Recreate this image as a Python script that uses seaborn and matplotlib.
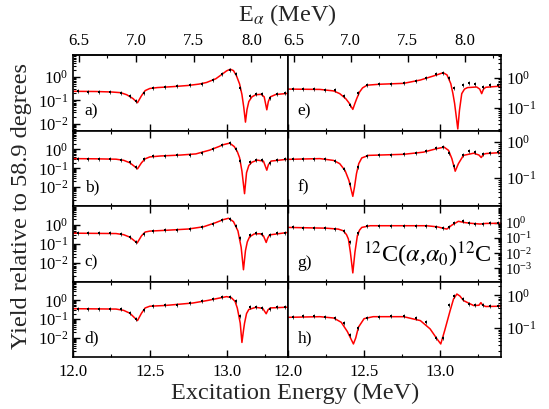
import matplotlib
matplotlib.use("Agg")
import matplotlib.pyplot as plt
import seaborn as sns
import pandas as pd
from matplotlib.ticker import MultipleLocator, LogLocator, NullFormatter, FixedLocator, FormatStrFormatter

sns.set_theme(style="ticks")
plt.rcParams['font.family'] = ['Liberation Serif', 'DejaVu Serif']
plt.rcParams['mathtext.fontset'] = 'stix'
plt.rcParams['axes.linewidth'] = 1.2
plt.rcParams['xtick.color'] = 'black'
plt.rcParams['ytick.color'] = 'black'

# ---------------- data ----------------
# fit curves (red): excitation energy (MeV) and yield
fit_ex_a = [12.00, 12.15, 12.25, 12.31, 12.35, 12.39, 12.42, 12.446, 12.47, 12.50, 12.55, 12.65, 12.75, 12.82, 12.87, 12.93, 12.97, 13.00, 13.024, 13.045, 13.065, 13.085, 13.10, 13.112, 13.123, 13.133, 13.145, 13.165, 13.19, 13.225, 13.245, 13.262, 13.272, 13.285, 13.32, 13.40]
fit_y_a = [0.245, 0.24, 0.229, 0.214, 0.174, 0.120, 0.079, 0.158, 0.263, 0.324, 0.355, 0.389, 0.437, 0.50, 0.589, 0.851, 1.32, 1.86, 2.19, 1.91, 1.12, 0.50, 0.178, 0.050, 0.0115, 0.040, 0.089, 0.141, 0.174, 0.182, 0.141, 0.039, 0.089, 0.141, 0.178, 0.20]

fit_ex_b = [12.00, 12.15, 12.28, 12.33, 12.37, 12.40, 12.42, 12.446, 12.47, 12.50, 12.57, 12.70, 12.80, 12.89, 12.95, 12.98, 13.02, 13.05, 13.07, 13.085, 13.10, 13.117, 13.13, 13.145, 13.165, 13.20, 13.24, 13.262, 13.272, 13.29, 13.40]
fit_y_b = [0.324, 0.316, 0.302, 0.263, 0.195, 0.126, 0.093, 0.195, 0.316, 0.398, 0.447, 0.50, 0.575, 0.912, 1.41, 1.78, 2.14, 1.41, 0.759, 0.355, 0.071, 0.0045, 0.058, 0.141, 0.209, 0.269, 0.24, 0.079, 0.151, 0.24, 0.302]

fit_ex_c = [12.00, 12.28, 12.33, 12.37, 12.418, 12.446, 12.47, 12.50, 12.60, 12.75, 12.85, 12.93, 12.98, 13.013, 13.045, 13.074, 13.095, 13.11, 13.123, 13.135, 13.15, 13.18, 13.22, 13.24, 13.258, 13.268, 13.28, 13.40]
fit_y_c = [0.363, 0.347, 0.302, 0.224, 0.11, 0.263, 0.417, 0.468, 0.513, 0.603, 0.794, 1.32, 1.91, 2.24, 1.48, 0.479, 0.065, 0.0042, 0.043, 0.126, 0.234, 0.331, 0.339, 0.263, 0.117, 0.20, 0.295, 0.398]

fit_ex_d = [12.00, 12.28, 12.33, 12.37, 12.42, 12.446, 12.47, 12.50, 12.60, 12.78, 12.88, 12.94, 13.00, 13.03, 13.055, 13.07, 13.089, 13.10, 13.11, 13.117, 13.13, 13.145, 13.19, 13.235, 13.258, 13.27, 13.285, 13.40]
fit_y_d = [0.363, 0.347, 0.295, 0.209, 0.085, 0.209, 0.398, 0.49, 0.537, 0.724, 1.0, 1.26, 1.58, 1.41, 0.891, 0.389, 0.062, 0.0059, 0.025, 0.062, 0.20, 0.331, 0.427, 0.38, 0.195, 0.316, 0.398, 0.437]

fit_ex_e = [12.00, 12.21, 12.30, 12.34, 12.38, 12.40, 12.426, 12.44, 12.452, 12.47, 12.49, 12.52, 12.60, 12.76, 12.87, 12.96, 13.02, 13.045, 13.07, 13.084, 13.095, 13.105, 13.116, 13.127, 13.142, 13.16, 13.18, 13.24, 13.26, 13.273, 13.285, 13.30, 13.40]
fit_y_e = [0.417, 0.407, 0.363, 0.295, 0.20, 0.148, 0.089, 0.141, 0.204, 0.331, 0.457, 0.562, 0.603, 0.646, 0.832, 1.15, 1.45, 1.23, 0.631, 0.295, 0.141, 0.056, 0.020, 0.083, 0.295, 0.417, 0.468, 0.49, 0.417, 0.295, 0.417, 0.479, 0.525]

fit_ex_f = [12.00, 12.21, 12.30, 12.34, 12.375, 12.40, 12.415, 12.426, 12.437, 12.45, 12.465, 12.485, 12.53, 12.76, 12.89, 12.98, 13.026, 13.055, 13.077, 13.099, 13.12, 13.153, 13.22, 13.255, 13.27, 13.285, 13.30, 13.40]
fit_y_f = [0.331, 0.347, 0.309, 0.251, 0.162, 0.087, 0.048, 0.031, 0.056, 0.132, 0.251, 0.363, 0.427, 0.457, 0.525, 0.661, 0.724, 0.589, 0.347, 0.155, 0.251, 0.427, 0.49, 0.437, 0.372, 0.457, 0.479, 0.513]

fit_ex_g = [12.00, 12.25, 12.33, 12.364, 12.385, 12.397, 12.41, 12.426, 12.44, 12.456, 12.47, 12.485, 12.54, 12.91, 12.98, 13.044, 13.077, 13.12, 13.16, 13.20, 13.263, 13.30, 13.40]
fit_y_g = [0.479, 0.427, 0.372, 0.288, 0.158, 0.083, 0.0115, 0.00051, 0.0115, 0.138, 0.316, 0.479, 0.617, 0.617, 0.525, 0.372, 0.676, 1.2, 1.0, 0.891, 0.794, 0.871, 0.891]

fit_ex_h = [12.00, 12.21, 12.30, 12.35, 12.39, 12.43, 12.445, 12.463, 12.50, 12.56, 12.76, 12.87, 12.934, 12.978, 13.004, 13.03, 13.066, 13.088, 13.11, 13.13, 13.154, 13.22, 13.255, 13.268, 13.28, 13.30, 13.40]
fit_y_h = [0.214, 0.224, 0.204, 0.151, 0.079, 0.033, 0.05, 0.107, 0.195, 0.224, 0.224, 0.17, 0.095, 0.048, 0.033, 0.085, 0.347, 0.776, 1.10, 0.955, 0.692, 0.49, 0.50, 0.60, 0.50, 0.457, 0.468]

# measured points (black)
data_ex = [12.03, 12.10, 12.17, 12.24, 12.31, 12.37, 12.41, 12.46, 12.52, 12.60, 12.68, 12.76, 12.84, 12.91, 12.97, 13.02, 13.06, 13.09, 13.15, 13.19, 13.23, 13.28, 13.33, 13.38]
data_y_a = [0.245, 0.24, 0.235, 0.23, 0.21, 0.16, 0.09, 0.2, 0.33, 0.37, 0.40, 0.44, 0.52, 0.75, 1.4, 2.1, 1.3, 0.33, 0.16, 0.19, 0.19, 0.13, 0.19, 0.2]
data_y_b = [0.32, 0.32, 0.31, 0.30, 0.29, 0.21, 0.11, 0.3, 0.42, 0.46, 0.48, 0.52, 0.62, 1.0, 1.7, 2.1, 1.0, 0.25, 0.22, 0.27, 0.26, 0.2, 0.28, 0.30]
data_y_c = [0.36, 0.36, 0.35, 0.35, 0.33, 0.23, 0.13, 0.33, 0.48, 0.52, 0.56, 0.61, 0.75, 1.15, 1.9, 2.1, 0.9, 0.2, 0.28, 0.35, 0.33, 0.3, 0.36, 0.39]
data_y_d = [0.36, 0.36, 0.35, 0.35, 0.33, 0.21, 0.1, 0.3, 0.5, 0.54, 0.6, 0.73, 0.95, 1.25, 1.55, 1.5, 0.9, 0.15, 0.42, 0.46, 0.41, 0.36, 0.42, 0.44]
data_y_e = [0.42, 0.41, 0.41, 0.40, 0.38, 0.24, 0.12, 0.3, 0.56, 0.6, 0.62, 0.64, 0.78, 1.0, 1.3, 1.45, 0.95, 0.45, 0.58, 0.64, 0.62, 0.5, 0.58, 0.56]
data_y_f = [0.33, 0.34, 0.34, 0.33, 0.3, 0.18, 0.07, 0.2, 0.42, 0.44, 0.45, 0.46, 0.5, 0.58, 0.68, 0.75, 0.5, 0.22, 0.45, 0.56, 0.52, 0.46, 0.5, 0.52]
data_y_g = [0.48, 0.46, 0.44, 0.42, 0.40, 0.3, 0.05, 0.2, 0.62, 0.62, 0.62, 0.62, 0.6, 0.58, 0.52, 0.45, 0.5, 0.9, 1.3, 1.0, 0.85, 0.8, 0.9, 0.9]
data_y_h = [0.22, 0.23, 0.23, 0.22, 0.2, 0.14, 0.06, 0.1, 0.21, 0.22, 0.23, 0.23, 0.2, 0.15, 0.05, 0.05, 0.5, 0.95, 0.75, 0.55, 0.5, 0.5, 0.46, 0.47]

panel_labels = ['a)', 'b)', 'c)', 'd)', 'e)', 'f)', 'g)', 'h)']
ylims = [(5e-3, 9), (1e-3, 1e1), (1e-3, 1e1), (1e-3, 1e1),
         (0.0178, 5.6), (0.0167, 2.1), (1.4e-4, 12), (0.0132, 2.65)]
yticks_major = [[1e-2, 1e-1, 1e0], [1e-2, 1e-1, 1e0], [1e-2, 1e-1, 1e0], [1e-2, 1e-1, 1e0],
                [1e-1, 1e0], [1e-1, 1e0], [1e-3, 1e-2, 1e-1, 1e0], [1e-1, 1e0]]
x_ticks = [12.0, 12.5, 13.0]
ea_ticks = [6.5, 7.0, 7.5, 8.0]
reaction_label = r'$^{12}$C($\alpha$,$\alpha_0$)$^{12}$C'

fits = [(fit_ex_a, fit_y_a), (fit_ex_b, fit_y_b), (fit_ex_c, fit_y_c), (fit_ex_d, fit_y_d),
        (fit_ex_e, fit_y_e), (fit_ex_f, fit_y_f), (fit_ex_g, fit_y_g), (fit_ex_h, fit_y_h)]
datas = [data_y_a, data_y_b, data_y_c, data_y_d, data_y_e, data_y_f, data_y_g, data_y_h]

# ---------------- layout ----------------
W, H = 549, 409
fig = plt.figure(figsize=(W / 100, H / 100), dpi=100)
x_left, x_mid, x_right = 73, 288, 501
y_top, row_h = 55, 75.5

def ex_to_ea(ex):
    return (ex - 7.162) / 0.75

def ea_to_ex(ea):
    return 7.162 + 0.75 * ea

axes = []
for i in range(8):
    col = i // 4
    row = i % 4
    x0 = x_left if col == 0 else x_mid
    w = (x_mid - x_left) if col == 0 else (x_right - x_mid)
    top = y_top + row * row_h
    ax = fig.add_axes([x0 / W, 1 - (top + row_h) / H, w / W, row_h / H])
    axes.append(ax)

    fx, fy = fits[i]
    sns.lineplot(x=fx, y=fy, ax=ax, color='#ff0000', linewidth=1.1, sort=False,
                 estimator=None, zorder=2)
    sns.scatterplot(x=data_ex, y=datas[i], ax=ax, color='black', marker='|', s=5,
                    linewidth=0.5, zorder=3)
    sns.scatterplot(x=data_ex, y=datas[i], ax=ax, color='black', marker='s', s=1.8,
                    linewidth=0, zorder=3)

    ax.set_yscale('log')
    ax.set_ylim(*ylims[i])
    ax.set_xlim(12.0, 13.4)
    ax.set_facecolor('white')
    for sp in ax.spines.values():
        sp.set_visible(True)
        sp.set_color('black')
        sp.set_linewidth(1.2)
    ax.yaxis.set_major_locator(FixedLocator(yticks_major[i]))
    ax.yaxis.set_minor_locator(LogLocator(base=10, subs=[2, 3, 4, 5, 6, 7, 8, 9], numticks=20))
    ax.yaxis.set_minor_formatter(NullFormatter())
    ax.xaxis.set_major_locator(FixedLocator(x_ticks))
    ax.xaxis.set_minor_locator(MultipleLocator(0.25))
    ax.xaxis.set_major_formatter(FormatStrFormatter('%.1f'))
    ax.tick_params(axis='both', which='major', direction='in', length=5, width=1.0,
                   labelsize=12, colors='black')
    ax.tick_params(axis='both', which='minor', direction='in', length=2.5, width=0.8,
                   colors='black')
    if col == 0:
        ax.tick_params(axis='y', which='both', left=True, right=False,
                       labelleft=True, labelright=False)
    else:
        ax.tick_params(axis='y', which='both', left=False, right=True,
                       labelleft=False, labelright=True)
    if i == 6:
        ax.tick_params(axis='y', which='major', labelsize=10.5, pad=3)
    ax.tick_params(axis='x', which='both', bottom=True, top=(row != 0),
                   labelbottom=(row == 3), labeltop=False, pad=5)
    ax.set_xlabel('')
    ax.set_ylabel('')
    ax.text(0.055 if col == 0 else 0.045, 0.25, panel_labels[i], transform=ax.transAxes,
            fontsize=12.5, ha='left', va='center', color='black')

    if row == 0:
        sec = ax.secondary_xaxis('top', functions=(ex_to_ea, ea_to_ex))
        sec.xaxis.set_major_locator(FixedLocator(ea_ticks))
        sec.xaxis.set_minor_locator(MultipleLocator(0.25))
        sec.xaxis.set_major_formatter(FormatStrFormatter('%.1f'))
        sec.tick_params(axis='x', which='major', direction='in', length=5, width=1.0,
                        labelsize=12, colors='black', pad=4)
        sec.tick_params(axis='x', which='minor', direction='in', length=2.5, width=0.8,
                        colors='black')
        sec.spines['top'].set_linewidth(1.2)

axes[6].text(0.35, 0.36, reaction_label, transform=axes[6].transAxes, fontsize=17.5,
             ha='left', va='center', color='black')

fig.text(287 / W, 1 - 15 / H, r'E$_\alpha$ (MeV)', ha='center', va='center', fontsize=17.5)
fig.text(295 / W, 1 - 393 / H, 'Excitation Energy (MeV)', ha='center', va='center', fontsize=17.5)
fig.text(22 / W, 1 - 206 / H, 'Yield relative to 58.9 degrees', ha='center', va='center',
         rotation=90, fontsize=17.5)

fig.savefig('out.png', dpi=100, facecolor='white')
